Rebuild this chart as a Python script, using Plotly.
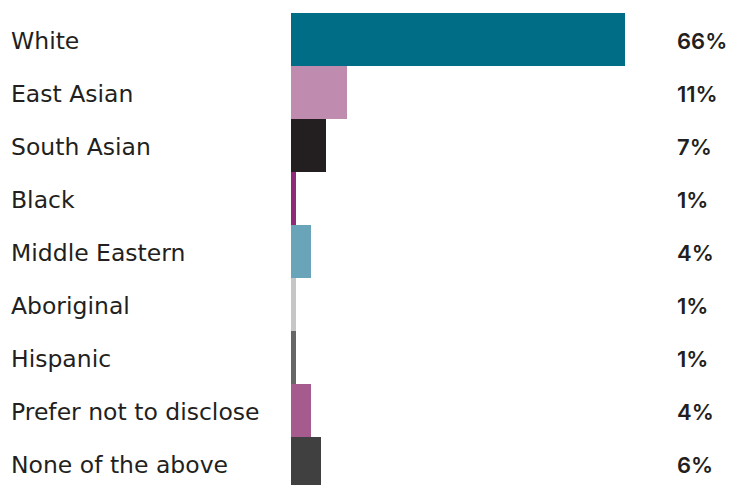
import plotly.graph_objects as go

# Survey responses by ethnicity (percent of respondents)
categories = ["White", "East Asian", "South Asian", "Black", "Middle Eastern",
              "Aboriginal", "Hispanic", "Prefer not to disclose", "None of the above"]
values = [66, 11, 7, 1, 4, 1, 1, 4, 6]
bar_colors = ["#006D87", "#BF8BAE", "#231F20", "#902A77", "#6AA4B9",
              "#C6C6C6", "#666666", "#A55B8D", "#404040"]
value_labels = [f"{v}%" for v in values]

W, H = 729, 485
left, top = 291, 13
band = 53
px_per_unit = 334 / 66
x_max = (W - left) / px_per_unit
label_x = (675 - left) / px_per_unit
n = len(categories)
y_bottom = -0.5 + (H - top) / band

text_color = "#231F20"
label_font = "DejaVu Sans, Inter, sans-serif"
value_font = "Inter, DejaVu Sans, sans-serif"

fig = go.Figure(go.Bar(
    x=values, y=list(range(n)), orientation="h",
    marker=dict(color=bar_colors, line=dict(width=0)),
    hoverinfo="skip",
))

annotations = []
for i, (cat, lab) in enumerate(zip(categories, value_labels)):
    annotations.append(dict(
        x=(9 - left) / (W - left), xref="paper", y=i + 0.03, yref="y",
        text=cat, showarrow=False, xanchor="left", yanchor="middle",
        font=dict(family=label_font, size=23.5, color=text_color, weight=400),
    ))
    annotations.append(dict(
        x=label_x, xref="x", y=i + 0.03, yref="y",
        text=lab, showarrow=False, xanchor="left", yanchor="middle",
        font=dict(family=value_font, size=22, color=text_color, weight=600),
    ))

fig.update_layout(
    width=W, height=H,
    margin=dict(l=left, r=0, t=top, b=0, pad=0),
    paper_bgcolor="white", plot_bgcolor="white",
    bargap=0, showlegend=False,
    xaxis=dict(range=[0, x_max], visible=False, fixedrange=True),
    yaxis=dict(range=[y_bottom, -0.5], visible=False, fixedrange=True),
    annotations=annotations,
)

fig.write_html("out.html", config={"displayModeBar": False})
